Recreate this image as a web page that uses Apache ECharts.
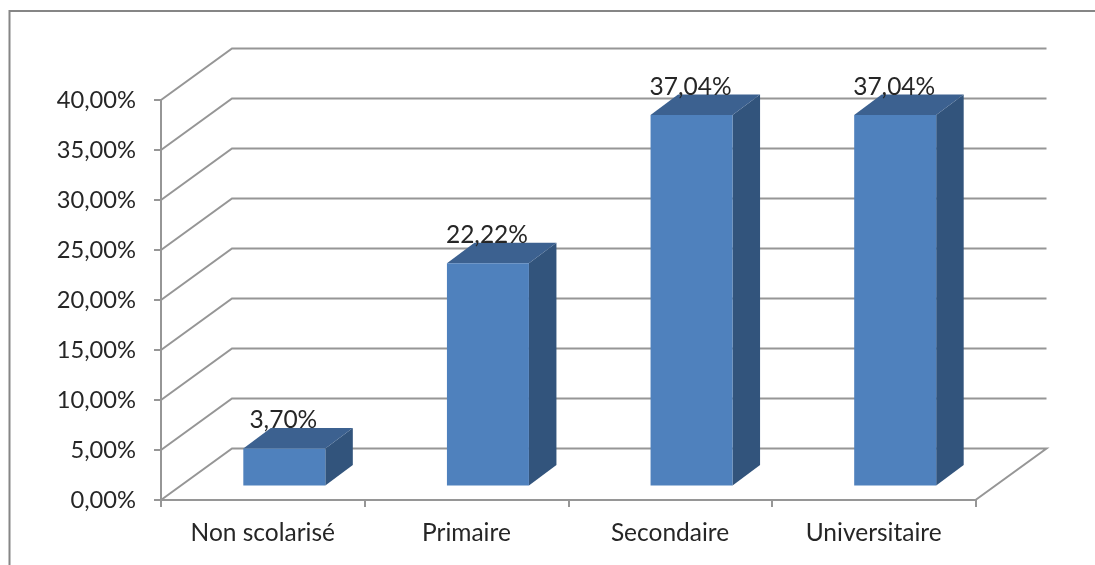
<!DOCTYPE html>
<html>
<head>
<meta charset="utf-8">
<style>html,body{margin:0;padding:0;background:#fff}#c{width:1095px;height:565px}</style>
<script src="https://cdn.jsdelivr.net/npm/echarts@6/dist/echarts.min.js"></script>
</head>
<body>
<div id="c"></div>
<script>
const categories = ['Non scolarisé', 'Primaire', 'Secondaire', 'Universitaire'];
const values = [3.70, 22.22, 37.04, 37.04];
const yTicks = [0, 5, 10, 15, 20, 25, 30, 35, 40];

const fmt = v => v.toFixed(2).replace('.', ',') + '%';
const GRID = '#969696', TEXT = '#262626', FONT = 'Lato';
const WALL = [71, -51.5];       // depth of the 3D room
const BAR_W = 82, BAR_SHIFT = [21.5, -14.5], BAR_DEPTH = [27.5, -20.5];

const chart = echarts.init(document.getElementById('c'), null, {renderer: 'canvas'});
chart.setOption({
  animation: false,
  backgroundColor: '#fff',
  graphic: [{
    type: 'polyline', z: 0, silent: true,
    shape: {points: [[9.5, 565], [9.5, 11], [1095, 11]]},
    style: {stroke: '#868686', lineWidth: 2, fill: null}
  }],
  grid: {left: 161, top: 100, width: 814.5, height: 400},
  xAxis: {
    type: 'category', data: categories,
    axisLine: {lineStyle: {color: GRID, width: 2}},
    axisTick: {show: true, alignWithLabel: false, length: 7, lineStyle: {color: GRID, width: 2}},
    axisLabel: {color: TEXT, fontFamily: FONT, fontSize: 24.5, margin: 21, interval: 0}
  },
  yAxis: {
    type: 'value', min: 0, max: 40, interval: 5,
    splitLine: {show: false},
    axisLine: {show: true, lineStyle: {color: GRID, width: 2}},
    axisTick: {show: true, length: 7, lineStyle: {color: GRID, width: 2}},
    axisLabel: {color: TEXT, fontFamily: FONT, fontSize: 23.7, margin: 25, formatter: fmt}
  },
  series: [{
    type: 'custom', z: 1, clip: false, silent: true,
    data: yTicks.map(v => [0, v]),
    encode: {x: 0, y: 1},
    renderItem(params, api) {
      const v = api.value(1), y = api.coord([0, v])[1];
      const cs = params.coordSys, x0 = cs.x, x1 = cs.x + cs.width;
      const pts = [[x0, y], [x0 + WALL[0], y + WALL[1]], [x1 + WALL[0], y + WALL[1]]];
      if (v === 0) pts.push([x1, y]);
      return {type: 'polyline', shape: {points: pts},
        style: {stroke: GRID, lineWidth: 2, fill: null}};
    }
  }, {
    type: 'custom', z: 2, clip: false, silent: true,
    data: values.map((v, i) => [i, v]),
    encode: {x: 0, y: 1},
    renderItem(params, api) {
      const v = api.value(1), top = api.coord([api.value(0), v]), base = api.coord([api.value(0), 0]);
      const l = top[0] + BAR_SHIFT[0] - BAR_W / 2, r = l + BAR_W;
      const t = top[1] + BAR_SHIFT[1], b = base[1] + BAR_SHIFT[1];
      const dx = BAR_DEPTH[0], dy = BAR_DEPTH[1];
      return {type: 'group', children: [
        {type: 'polygon', shape: {points: [[r, t], [r + dx, t + dy], [r + dx, b + dy], [r, b]]},
          style: {fill: '#32547c'}},
        {type: 'polygon', shape: {points: [[l, t], [l + dx, t + dy], [r + dx, t + dy], [r, t]]},
          style: {fill: '#3c6190'}},
        {type: 'rect', shape: {x: l, y: t, width: BAR_W, height: b - t},
          style: {fill: '#4f81bd'}},
        {type: 'text', style: {text: fmt(v), x: l + BAR_W / 2 - 1, y: t - 28,
          align: 'center', verticalAlign: 'middle',
          fill: TEXT, fontFamily: FONT, fontSize: 24.5}}
      ]};
    }
  }]
});
</script>
</body>
</html>
